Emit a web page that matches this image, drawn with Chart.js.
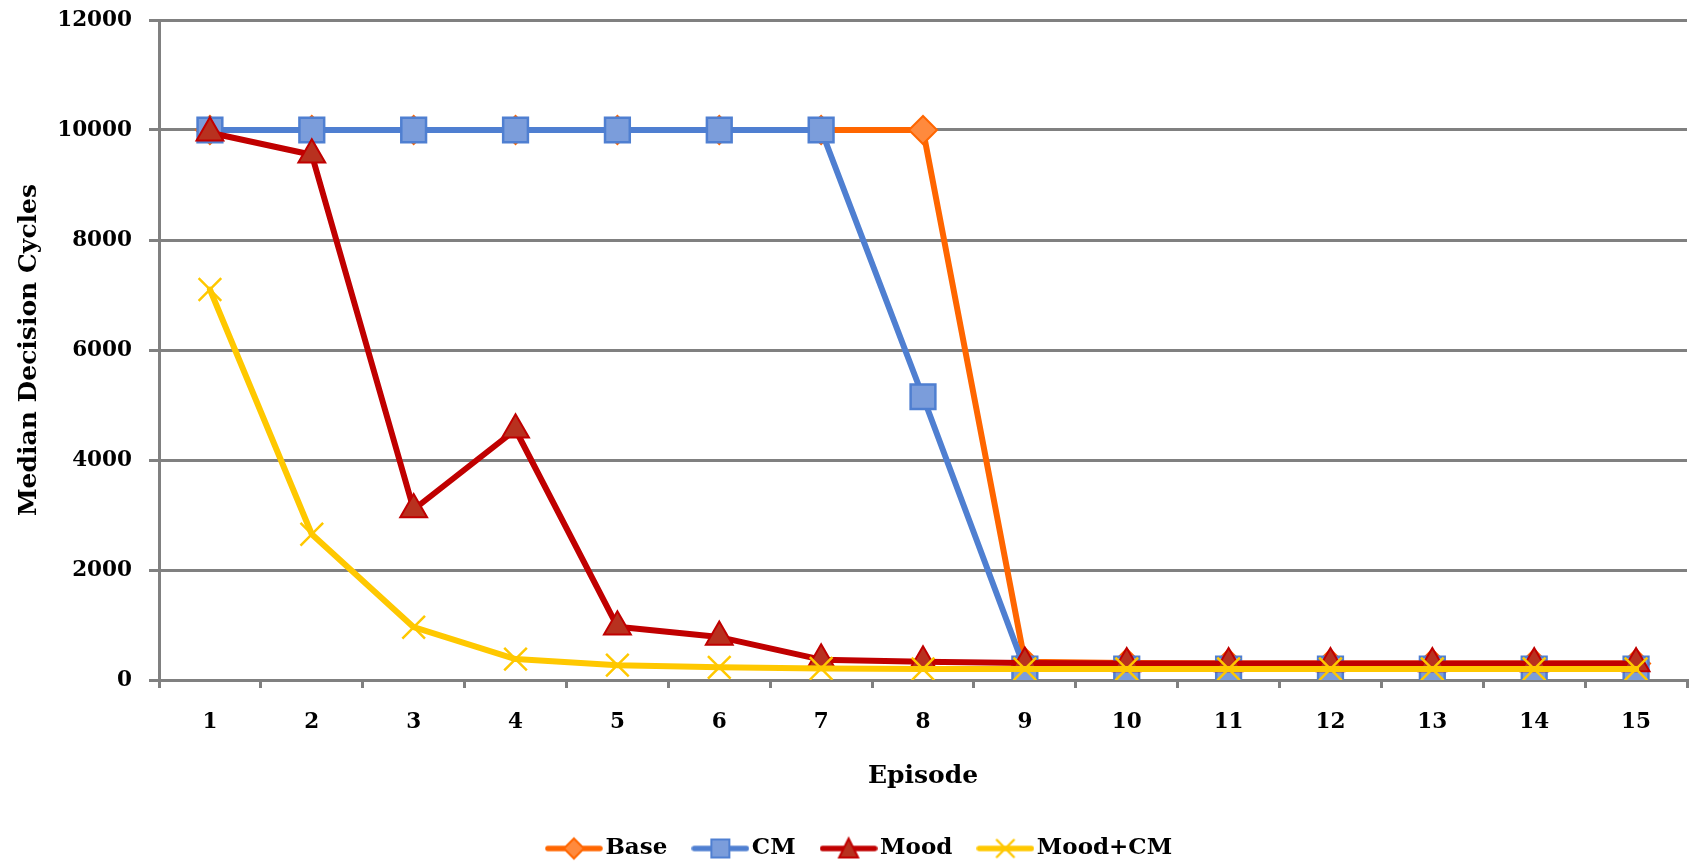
<!DOCTYPE html>
<html>
<head>
<meta charset="utf-8">
<title>Median Decision Cycles per Episode</title>
<script src="https://cdn.jsdelivr.net/npm/chart.js@4.4.0/dist/chart.umd.min.js"></script>
<style>
  html, body { margin: 0; padding: 0; background: #ffffff; }
  #wrap { width: 1707px; height: 863px; }
</style>
</head>
<body>
<div id="wrap"><canvas id="chart" width="1707" height="863"></canvas></div>
<script>
// Episodes on the x axis
const episodes = ['1', '2', '3', '4', '5', '6', '7', '8', '9', '10', '11', '12', '13', '14', '15'];

// Median decision cycles per episode for each agent configuration
const baseCycles   = [10000, 10000, 10000, 10000, 10000, 10000, 10000, 10000, 330, 310, 300, 300, 300, 300, 300];
const cmCycles     = [10000, 10000, 10000, 10000, 10000, 10000, 10000, 5150, 200, 200, 200, 200, 200, 200, 200];
const moodCycles   = [9950, 9550, 3100, 4550, 970, 780, 370, 330, 310, 300, 300, 300, 300, 300, 300];
const moodCmCycles = [7100, 2650, 960, 380, 270, 230, 210, 200, 200, 200, 200, 200, 200, 200, 200];

// Value axis ticks
const yTicks = [0, 2000, 4000, 6000, 8000, 10000, 12000];

const seriesNames = ['Base', 'CM', 'Mood', 'Mood+CM'];

const FONT = 'DejaVu Serif';
const GRID = '#808080';

const COLORS = {
  base:   { line: '#FF6600', fill: '#FF8A3D' },
  cm:     { line: '#4F7FD1', fill: '#7B9DDB' },
  mood:   { line: '#C00000', fill: '#B8311F' },
  moodCm: { line: '#FFC800', fill: '#FFC800' }
};

// Small line-plus-marker icons for the legend
function legendIcon(c, shape) {
  const cv = document.createElement('canvas');
  cv.width = 58; cv.height = 32;
  const g = cv.getContext('2d');
  const cx = 29, cy = 16;
  g.strokeStyle = c.line;
  g.lineWidth = 5.5;
  g.lineCap = 'round';
  g.beginPath(); g.moveTo(3, cy); g.lineTo(55, cy); g.stroke();
  g.fillStyle = c.fill;
  g.strokeStyle = c.line;
  g.lineWidth = 2;
  g.beginPath();
  if (shape === 'diamond') {
    const r = 10;
    g.moveTo(cx - r, cy); g.lineTo(cx, cy - r); g.lineTo(cx + r, cy); g.lineTo(cx, cy + r); g.closePath();
    g.fill(); g.stroke();
  } else if (shape === 'square') {
    const h = 9;
    g.rect(cx - h, cy - h, 2 * h, 2 * h);
    g.fill(); g.stroke();
  } else if (shape === 'triangle') {
    g.moveTo(cx, cy - 10); g.lineTo(cx + 9.5, cy + 9); g.lineTo(cx - 9.5, cy + 9); g.closePath();
    g.fill(); g.stroke();
  } else {
    const h = 8.5;
    g.lineWidth = 2.4;
    g.moveTo(cx - h, cy - h); g.lineTo(cx + h, cy + h);
    g.moveTo(cx + h, cy - h); g.lineTo(cx - h, cy + h);
    g.stroke();
  }
  return cv;
}

const icons = [
  legendIcon(COLORS.base, 'diamond'),
  legendIcon(COLORS.cm, 'square'),
  legendIcon(COLORS.mood, 'triangle'),
  legendIcon(COLORS.moodCm, 'cross')
];

const data = {
  labels: episodes,
  datasets: [
    {
      label: seriesNames[0], data: baseCycles, order: 4,
      borderColor: COLORS.base.line, backgroundColor: COLORS.base.fill, borderWidth: 6,
      pointStyle: 'rectRot', pointRadius: 14, pointBorderWidth: 2,
      pointBackgroundColor: COLORS.base.fill, pointBorderColor: COLORS.base.line
    },
    {
      label: seriesNames[1], data: cmCycles, order: 3,
      borderColor: COLORS.cm.line, backgroundColor: COLORS.cm.fill, borderWidth: 6,
      pointStyle: 'rect', pointRadius: 17.5, pointBorderWidth: 2.5,
      pointBackgroundColor: COLORS.cm.fill, pointBorderColor: COLORS.cm.line
    },
    {
      label: seriesNames[2], data: moodCycles, order: 2,
      borderColor: COLORS.mood.line, backgroundColor: COLORS.mood.fill, borderWidth: 6,
      pointStyle: 'triangle', pointRadius: 15.5, pointBorderWidth: 2,
      pointBackgroundColor: COLORS.mood.fill, pointBorderColor: COLORS.mood.line
    },
    {
      label: seriesNames[3], data: moodCmCycles, order: 1,
      borderColor: COLORS.moodCm.line, backgroundColor: COLORS.moodCm.fill, borderWidth: 6,
      pointStyle: 'crossRot', pointRadius: 16, pointBorderWidth: 2.5,
      pointBackgroundColor: COLORS.moodCm.fill, pointBorderColor: COLORS.moodCm.line
    }
  ]
};

// Nudges the legend row sideways after layout
const legendOffset = {
  id: 'legendOffset',
  afterLayout(chart, args, opts) {
    if (chart.legend) {
      chart.legend.left += opts.dx;
      chart.legend.right += opts.dx;
    }
  }
};

new Chart(document.getElementById('chart'), {
  type: 'line',
  data,
  plugins: [legendOffset],
  options: {
    responsive: false,
    devicePixelRatio: 1,
    animation: false,
    layout: { padding: { top: 19, right: 3, bottom: -7, left: 0 } },
    elements: { line: { tension: 0, borderCapStyle: 'round', borderJoinStyle: 'round' } },
    scales: {
      x: {
        offset: true,
        grid: { offset: true, drawOnChartArea: false, drawTicks: true, tickLength: 8, color: GRID, lineWidth: 3 },
        border: { display: true, color: GRID, width: 3 },
        ticks: { color: '#000', font: { family: FONT, size: 21.5, weight: 'bold' }, padding: 22, maxRotation: 0, autoSkip: false },
        title: {
          display: true, text: 'Episode', color: '#000',
          font: { family: FONT, size: 25, weight: 'bold' }, padding: { top: 0, bottom: 13 }
        },
        afterFit(scale) { scale.height = 124; }
      },
      y: {
        min: 0, max: 12000,
        afterBuildTicks(scale) { scale.ticks = yTicks.map(v => ({ value: v })); },
        grid: { color: GRID, lineWidth: 3, drawTicks: true, tickLength: 10 },
        border: { display: true, color: GRID, width: 3 },
        ticks: { color: '#000', font: { family: FONT, size: 21.5, weight: 'bold' }, padding: 17, callback: v => String(v) },
        title: {
          display: true, text: 'Median Decision Cycles', color: '#000',
          font: { family: FONT, size: 25, weight: 'bold' }, padding: { top: 14, bottom: 0 }
        },
        afterFit(scale) {
          scale.width = 159;
          scale.paddingTop = 0;
          scale.paddingBottom = 0;
        }
      }
    },
    plugins: {
      tooltip: { enabled: false },
      legendOffset: { dx: 11 },
      legend: {
        position: 'bottom',
        labels: {
          color: '#000',
          font: { family: FONT, size: 23, weight: 'bold' },
          usePointStyle: true,
          pointStyleWidth: 40,
          padding: 33,
          generateLabels(chart) {
            return chart.data.datasets.map((ds, i) => ({
              text: ds.label,
              datasetIndex: i,
              pointStyle: icons[i],
              fillStyle: ds.backgroundColor,
              strokeStyle: ds.borderColor,
              lineWidth: 0,
              fontColor: '#000',
              hidden: false
            }));
          }
        }
      }
    }
  }
});
</script>
</body>
</html>
